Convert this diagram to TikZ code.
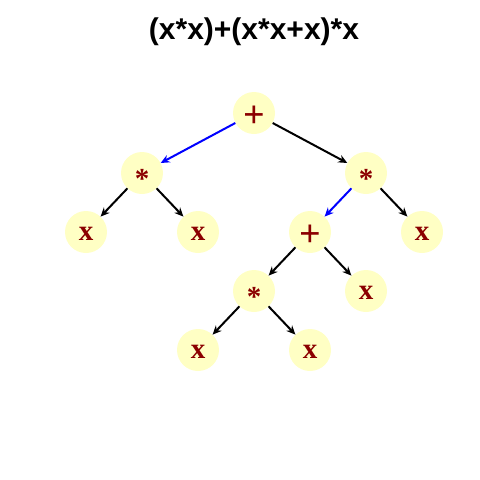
\documentclass[tikz,border=0pt]{standalone}
\usepackage{fontspec}
\setmainfont{Liberation Serif}
\setsansfont{Liberation Sans}
\usetikzlibrary{arrows.meta}
\definecolor{nodefill}{HTML}{FFFFC4}
\definecolor{lab}{HTML}{8B0000}
\newcommand\clab[2]{\smash{\raisebox{-#1em}{#2}}}
\newcommand\plab{{\fontsize{38}{38}\selectfont\clab{0.37}{+}}}
\tikzset{
  tn/.style={circle, fill=nodefill, minimum size=42pt, inner sep=0pt, text=lab, font=\rmfamily\bfseries\fontsize{29}{29}\selectfont},
  ed/.style={-{Stealth[length=9pt,width=8pt]}, line width=2pt, black},
  bed/.style={ed, blue},
}
\begin{document}
\begin{tikzpicture}[x=1pt,y=-1pt]
\useasboundingbox (0,0) rectangle (480,480);
\node[font=\sffamily\bfseries\fontsize{30}{30}\selectfont] (title) at (254,32) {(x*x)+(x*x+x)*x};
\node[tn] (r) at (254,113) {\plab};
\node[tn] (a) at (142,173) {\clab{0.52}{*}};
\node[tn] (b) at (366,173) {\clab{0.52}{*}};
\node[tn] (a1) at (86,232) {\clab{0.28}{x}};
\node[tn] (a2) at (198,232) {\clab{0.28}{x}};
\node[tn] (c) at (310,232) {\plab};
\node[tn] (b2) at (422,232) {\clab{0.28}{x}};
\node[tn] (d) at (254,291) {\clab{0.52}{*}};
\node[tn] (c2) at (366,291) {\clab{0.28}{x}};
\node[tn] (d1) at (198,350) {\clab{0.28}{x}};
\node[tn] (d2) at (310,350) {\clab{0.28}{x}};
\draw[bed] (r) -- (a);
\draw[ed] (r) -- (b);
\draw[ed] (a) -- (a1);
\draw[ed] (a) -- (a2);
\draw[bed] (b) -- (c);
\draw[ed] (b) -- (b2);
\draw[ed] (c) -- (d);
\draw[ed] (c) -- (c2);
\draw[ed] (d) -- (d1);
\draw[ed] (d) -- (d2);
\end{tikzpicture}
\end{document}
